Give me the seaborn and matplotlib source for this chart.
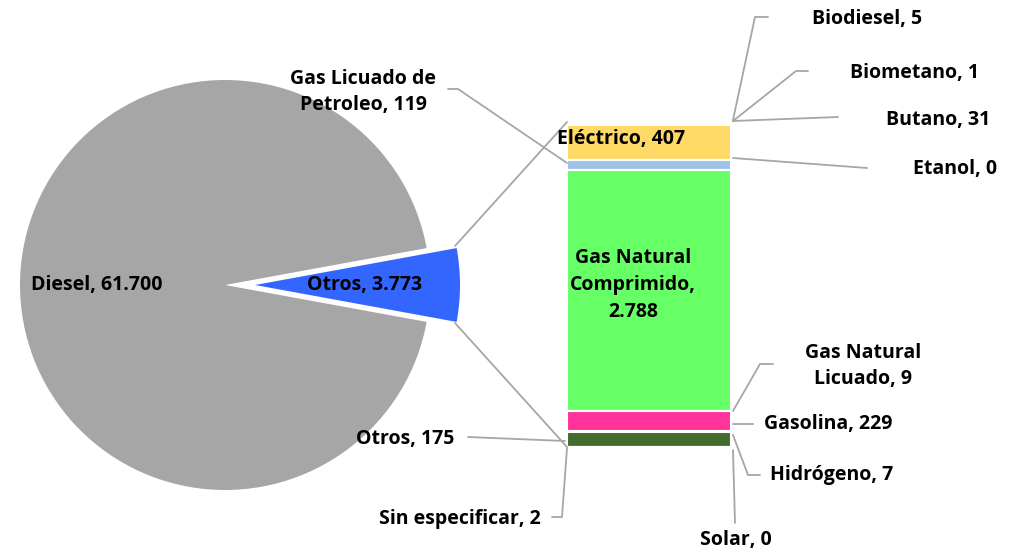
import numpy as np
import matplotlib
matplotlib.use("Agg")
import matplotlib.pyplot as plt
import seaborn as sns


# ── data ─────────────────────────────────────────────────────────────────────

pie_labels = ["Otros", "Diesel"]
pie_values = [3773, 61700]
pie_colors = ["#3366FF", "#A6A6A6"]

bar_labels = ["Biodiesel", "Biometano", "Butano", "Eléctrico", "Etanol",
              "Gas Licuado de\nPetroleo", "Gas Natural\nComprimido,\n",
              "Gas Natural\nLicuado", "Gasolina", "Hidrógeno", "Otros",
              "Sin especificar", "Solar"]
bar_values = [5, 1, 31, 407, 0, 119, 2788, 9, 229, 7, 175, 2, 0]
bar_colors = ["#ED7D31", "#A5A5A5", "#5B9BD5", "#FFD966", "#4472C4",
              "#9DC3E6", "#66FF66", "#264478", "#FF3399", "#7030A0",
              "#426B2E", "#C00000", "#FFC000"]


def fmt(v):
    return f"{v:,}".replace(",", ".")


# ── figure ───────────────────────────────────────────────────────────────────

sns.set_theme(style="white")
plt.rcParams["font.family"] = ["Open Sans", "DejaVu Sans"]

W, H = 1025, 555
fig = plt.figure(figsize=(W / 100, H / 100), dpi=100)
ax = fig.add_axes([0, 0, 1, 1])

# pie of the totals, "Otros" pulled out towards the bar
cx, cy, r = 225, 285, 205
half = pie_values[0] / sum(pie_values) * 360 / 2
# explode is in data units here (axes are in pixel coords)
ax.pie(pie_values, colors=pie_colors, startangle=-half, center=(cx, cy),
       radius=r, explode=[30, 0], wedgeprops=dict(linewidth=0))

# stacked bar breaking down "Otros"
bx, bw, top, bot = 649, 164, 122, 447
scale = (bot - top) / sum(bar_values)
starts = top + np.concatenate([[0], np.cumsum(bar_values)[:-1]]) * scale
ax.bar([bx] * len(bar_values), np.array(bar_values) * scale, bottom=starts,
       width=bw, color=bar_colors, edgecolor="white", linewidth=1.5)

# connector lines pie -> bar
lc = "#A6A6A6"
ax.plot([455, bx - bw / 2], [246, top], color=lc, lw=1.3)
ax.plot([455, bx - bw / 2], [323, bot], color=lc, lw=1.3)

ax.set_xlim(0, W)
ax.set_ylim(H, 0)
ax.set_aspect("equal")
ax.axis("off")

kw = dict(fontsize=14, fontweight="bold", color="black", ha="center",
          va="center", linespacing=1.45)

ax.text(97, 285, f"{pie_labels[1]}, {fmt(pie_values[1])}", **kw)
ax.text(365, 285, f"{pie_labels[0]}, {fmt(pie_values[0])}", **kw)

# label position and leader line points for each bar segment
label_pos = {
    "Biodiesel": ((867, 19), [(768, 17), (755, 17), (733, 120)]),
    "Biometano": ((915, 73), [(808, 71), (796, 71), (733, 121)]),
    "Butano": ((938, 120), [(838, 117), (733, 121)]),
    "Eléctrico": ((621, 139), None),
    "Etanol": ((955, 169), [(867, 168), (733, 158)]),
    "Gas Licuado de\nPetroleo": ((363, 92), [(448, 89), (458, 89), (567, 163)]),
    "Gas Natural\nComprimido,\n": ((633, 285), None),
    "Gas Natural\nLicuado": ((863, 366), [(773, 364), (760, 364), (733, 411)]),
    "Gasolina": ((828, 424), [(753, 424), (733, 424)]),
    "Hidrógeno": ((832, 475), [(760, 475), (748, 475), (733, 435)]),
    "Otros": ((405, 439), [(468, 437), (565, 441)]),
    "Sin especificar": ((460, 519), [(552, 517), (562, 517), (567, 448)]),
    "Solar": ((736, 540), [(735, 523), (733, 450)]),
}

for lab, val in zip(bar_labels, bar_values):
    (tx, ty), pts = label_pos[lab]
    sep = "" if lab.endswith("\n") else ", "
    ax.text(tx, ty, f"{lab}{sep}{fmt(val)}", **kw)
    if pts:
        xs, ys = zip(*pts)
        ax.plot(xs, ys, color=lc, lw=1.3)

fig.savefig("out.png", dpi=100)
